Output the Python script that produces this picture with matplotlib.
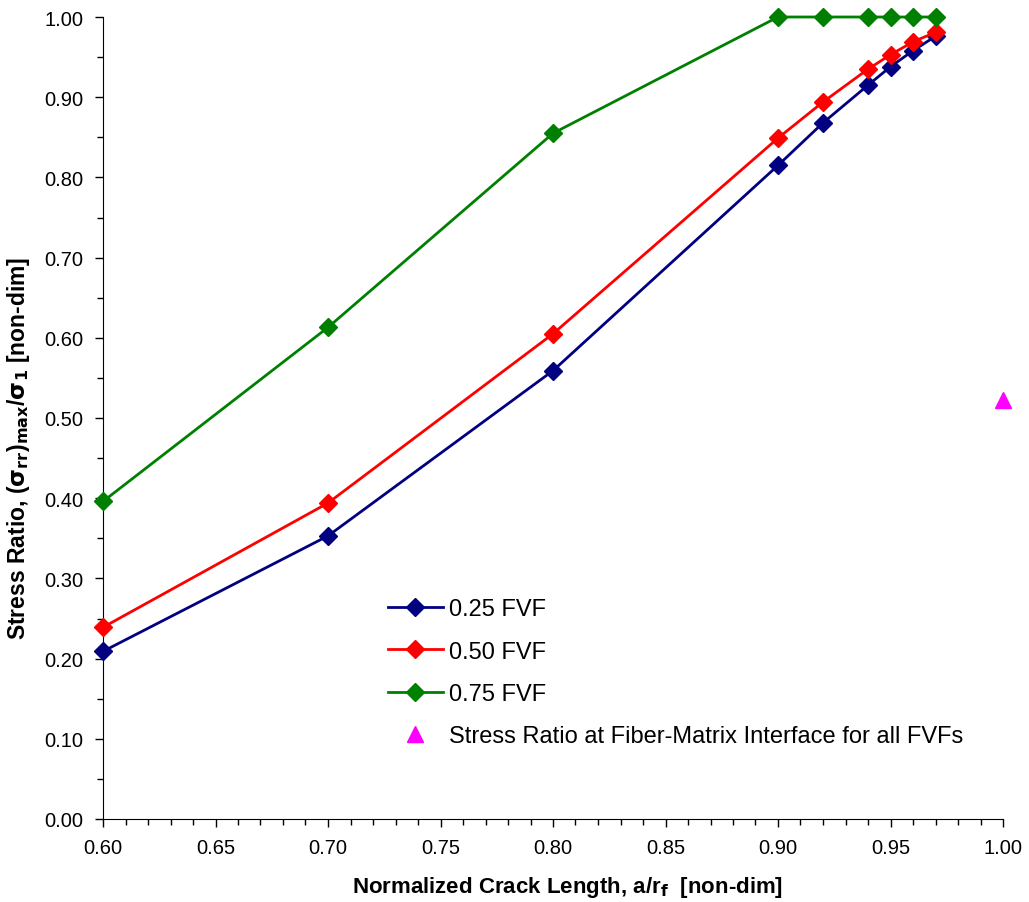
import numpy as np
from matplotlib import rcParams
from matplotlib import pyplot as plt
from matplotlib.ticker import MultipleLocator, FormatStrFormatter

rcParams['font.family'] = ['Liberation Sans', 'DejaVu Sans']
rcParams['font.size'] = 14
rcParams['axes.spines.top'] = False
rcParams['axes.spines.right'] = False

# data
crack_len = [0.60, 0.70, 0.80, 0.90, 0.92, 0.94, 0.95, 0.96, 0.97]
fvf_025 = [0.209, 0.353, 0.559, 0.815, 0.868, 0.915, 0.938, 0.958, 0.976]
fvf_050 = [0.239, 0.394, 0.605, 0.849, 0.894, 0.935, 0.953, 0.969, 0.981]
fvf_075 = [0.396, 0.613, 0.855, 1.000, 1.000, 1.000, 1.000, 1.000, 1.000]
interface_x = [1.00]
interface_y = [0.522]

fig = plt.figure(figsize=(10.29, 9.03), dpi=100)
ax = fig.add_axes([103/1029, 83/903, 900/1029, 802/903])

ax.plot(crack_len, fvf_025, color='#000080', lw=2, marker='D', ms=9, label='0.25 FVF', clip_on=False, zorder=3)
ax.plot(crack_len, fvf_050, color='#ff0000', lw=2, marker='D', ms=9, label='0.50 FVF', clip_on=False, zorder=3)
ax.plot(crack_len, fvf_075, color='#008000', lw=2, marker='D', ms=9, label='0.75 FVF', clip_on=False, zorder=3)
ax.plot(interface_x, interface_y, ls='none', marker='^', color='#ff00ff', ms=11,
        label='Stress Ratio at Fiber-Matrix Interface for all FVFs', clip_on=False, zorder=3)

ax.set_xlim(0.6, 1.0)
ax.set_ylim(0.0, 1.0)
ax.xaxis.set_major_locator(MultipleLocator(0.05))
ax.xaxis.set_minor_locator(MultipleLocator(0.01))
ax.yaxis.set_major_locator(MultipleLocator(0.1))
ax.yaxis.set_minor_locator(MultipleLocator(0.05))
ax.xaxis.set_major_formatter(FormatStrFormatter('%.2f'))
ax.yaxis.set_major_formatter(FormatStrFormatter('%.2f'))
ax.tick_params(which='major', direction='out', length=6, width=1, labelsize=14.5, pad=8)
ax.tick_params(which='minor', direction='out', length=4, width=1)

ax.set_xlabel('Normalized Crack Length, a/r$_\\mathbf{f}$  [non-dim]', fontsize=16, fontweight='bold')
ax.set_ylabel('Stress Ratio, ($\\mathbf{\\sigma_{rr}}$)$_\\mathbf{max}$/$\\mathbf{\\sigma_1}$ [non-dim]',
              fontsize=16.5, fontweight='bold')
ax.xaxis.set_label_coords(0.516, -0.068)
ax.yaxis.set_label_coords(-0.079, 0.464)

ax.legend(loc='upper left', bbox_to_anchor=(0.306, 0.287), frameon=False, fontsize=17,
          handlelength=2.33, labelspacing=0.86, handletextpad=0.25, borderaxespad=0)

fig.savefig('out.png', dpi=100)
